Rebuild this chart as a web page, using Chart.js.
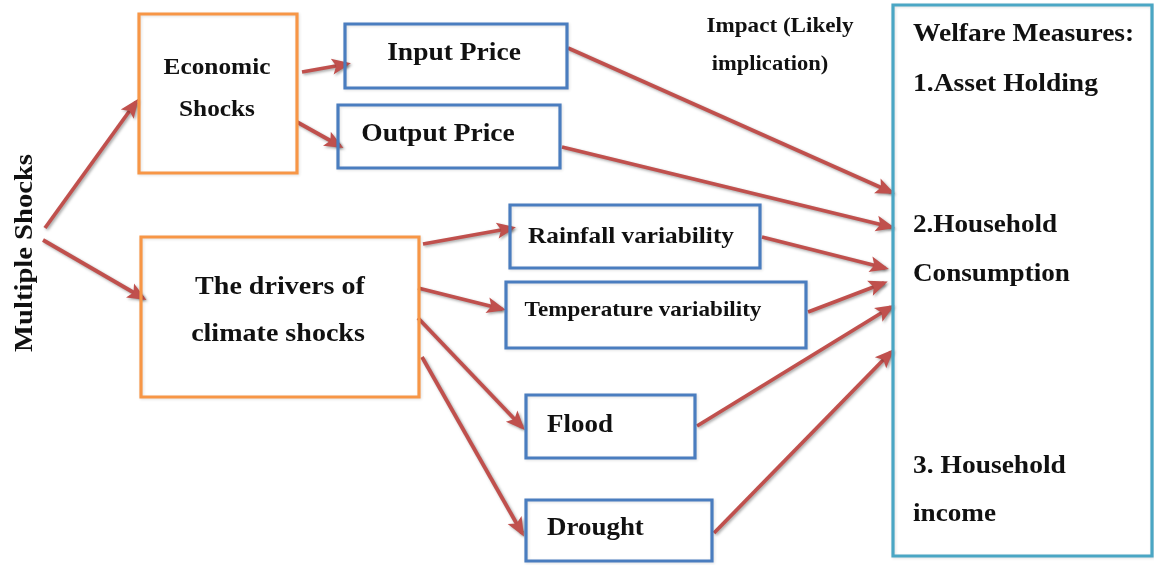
<!DOCTYPE html>
<html><head><meta charset="utf-8">
<script src="https://cdn.jsdelivr.net/npm/chart.js@4"></script>
<style>html,body{margin:0;padding:0;background:#fff;overflow:hidden}#wrap{width:1154px;height:565px;position:relative}</style>
</head><body><div id="wrap"><canvas id="c"></canvas></div>
<script>
// ---- diagram data (in diagram units) ----
const boxNames = ['Economic Shocks','Input Price','Output Price','The drivers of climate shocks','Rainfall variability','Temperature variability','Flood','Drought','Welfare Measures'];
const boxKind  = ['orange','blue','blue','orange','blue','blue','blue','blue','teal'];
const boxX0 = [139, 345, 338, 141, 510, 506, 526, 526, 893];
const boxY0 = [ 14,  24, 105, 237, 205, 282, 395, 500,   5];
const boxX1 = [297, 567, 560, 419, 760, 806, 695, 712, 1152];
const boxY1 = [173,  88, 168, 397, 268, 348, 458, 561, 556];

const arrowX0 = [ 45,  43, 302, 297, 568, 562, 423, 418, 418, 422, 762, 808, 697, 714];
const arrowY0 = [228, 240,  72, 122,  48, 147, 244, 288, 318, 357, 237, 312, 426, 533];
const arrowX1 = [136, 143, 347, 340, 891, 891, 512, 502, 522, 522, 885, 884, 891, 891];
const arrowY1 = [102, 298,  64, 146, 192, 227, 228, 309, 427, 533, 268, 283, 307, 352];

const textLines = ['Economic','Shocks','Input Price','Output Price','The drivers of','climate shocks','Rainfall variability','Temperature variability','Flood','Drought','Impact (Likely','implication)','Welfare Measures:','1.Asset Holding','2.Household','Consumption','3. Household','income'];
const textX = [217, 217, 454, 438, 280, 278, 631, 643, 547, 547, 780, 770, 913, 913, 913, 913, 913, 913];
const textY = [ 66, 108,  52, 133, 285, 332, 235, 309, 424, 527,  25,  63,  33,  83, 224, 273, 465, 513];
const verticalLabel = 'Multiple Shocks';
const verticalX = [25];
const verticalY = [253];

// ---- styles ----
const kindColor = {orange:'#f79646', blue:'#4a7dbf', teal:'#4aa6c4'};
const arrowColor = '#c0504d';
const textSize = [23,23,25,25,25.5,25.5,23,21,24.5,24.5,21,20.5,25,25,24.7,24.7,25,24.7];
const textAlign = ['center','center','center','center','center','center','center','center','left','left','center','center','left','left','left','left','left','left'];
const STRETCH = 1.1;
const TEXT_DY = 2;
const FONT = '"Liberation Serif", "Times New Roman", serif';

const datasets = [];
boxX0.forEach((x0,i)=>{
  const x1=boxX1[i], y0=boxY0[i], y1=boxY1[i];
  datasets.push({label:boxNames[i], data:[{x:x0,y:y0},{x:x1,y:y0},{x:x1,y:y1},{x:x0,y:y1},{x:x0,y:y0}],
    showLine:true, pointRadius:0, borderColor:kindColor[boxKind[i]], borderWidth:3.2, fill:false, tension:0,
    borderJoinStyle:'miter', borderCapStyle:'square', isBox:true});
});
arrowX0.forEach((x0,i)=>{
  datasets.push({label:'arrow'+i, data:[{x:x0,y:arrowY0[i]},{x:arrowX1[i],y:arrowY1[i]}],
    showLine:true, pointRadius:0, borderColor:arrowColor, borderWidth:3.8, fill:false, tension:0, isArrow:true});
});

const diagramPlugin = {
  id:'diagram',
  beforeDatasetDraw(chart,args){
    const ds = chart.data.datasets[args.index];
    const ctx = chart.ctx; ctx.save();
    if(ds.isArrow){ctx.shadowColor='rgba(0,0,0,0.35)';ctx.shadowBlur=3;ctx.shadowOffsetX=1.5;ctx.shadowOffsetY=1.5;}
    if(ds.isBox){ctx.shadowColor='rgba(0,0,0,0.12)';ctx.shadowBlur=3;ctx.shadowOffsetX=1;ctx.shadowOffsetY=1;}
  },
  afterDatasetDraw(chart,args){
    const ds = chart.data.datasets[args.index];
    const ctx = chart.ctx;
    if(ds.isArrow){
      const pts = args.meta.data;
      const a=pts[0], b=pts[1];
      const dx=b.x-a.x, dy=b.y-a.y, L=Math.hypot(dx,dy), ux=dx/L, uy=dy/L;
      const tx=b.x+ux*4, ty=b.y+uy*4, len=19, half=8;
      const bx=tx-ux*len, by=ty-uy*len;
      ctx.fillStyle=arrowColor;
      ctx.beginPath();
      ctx.moveTo(tx,ty);
      ctx.lineTo(bx-uy*half, by+ux*half);
      ctx.lineTo(bx+ux*4, by+uy*4);
      ctx.lineTo(bx+uy*half, by-ux*half);
      ctx.closePath(); ctx.fill();
    }
    ctx.restore();
  },
  afterDraw(chart){
    const ctx=chart.ctx, xs=chart.scales.x, ys=chart.scales.y;
    textLines.forEach((t,i)=>{
      ctx.save();
      ctx.font='bold '+textSize[i]+'px '+FONT;
      ctx.textAlign=textAlign[i];
      ctx.textBaseline='middle';
      ctx.translate(xs.getPixelForValue(textX[i]), ys.getPixelForValue(textY[i])+TEXT_DY);
      ctx.scale(STRETCH,1);
      ctx.fillStyle='#111';
      ctx.fillText(t,0,0);
      ctx.restore();
    });
    ctx.save();
    ctx.translate(xs.getPixelForValue(verticalX[0]), ys.getPixelForValue(verticalY[0]));
    ctx.rotate(-Math.PI/2);
    ctx.scale(STRETCH,1);
    ctx.font='bold 26px '+FONT; ctx.textAlign='center'; ctx.textBaseline='middle'; ctx.fillStyle='#111';
    ctx.fillText(verticalLabel,0,0);
    ctx.restore();
  }
};

function build(){
  new Chart(document.getElementById('c'),{
    type:'scatter',
    data:{datasets},
    options:{
      responsive:true, maintainAspectRatio:false, animation:false,
      layout:{padding:0},
      plugins:{legend:{display:false},tooltip:{enabled:false}},
      scales:{
        x:{type:'linear',min:0,max:1154,display:false},
        y:{type:'linear',min:0,max:565,reverse:true,display:false}
      }
    },
    plugins:[diagramPlugin]
  });
}
if(document.fonts && document.fonts.load){
  Promise.all([document.fonts.load('bold 20px "Liberation Serif"')]).then(build,build);
} else build();
</script></body></html>
